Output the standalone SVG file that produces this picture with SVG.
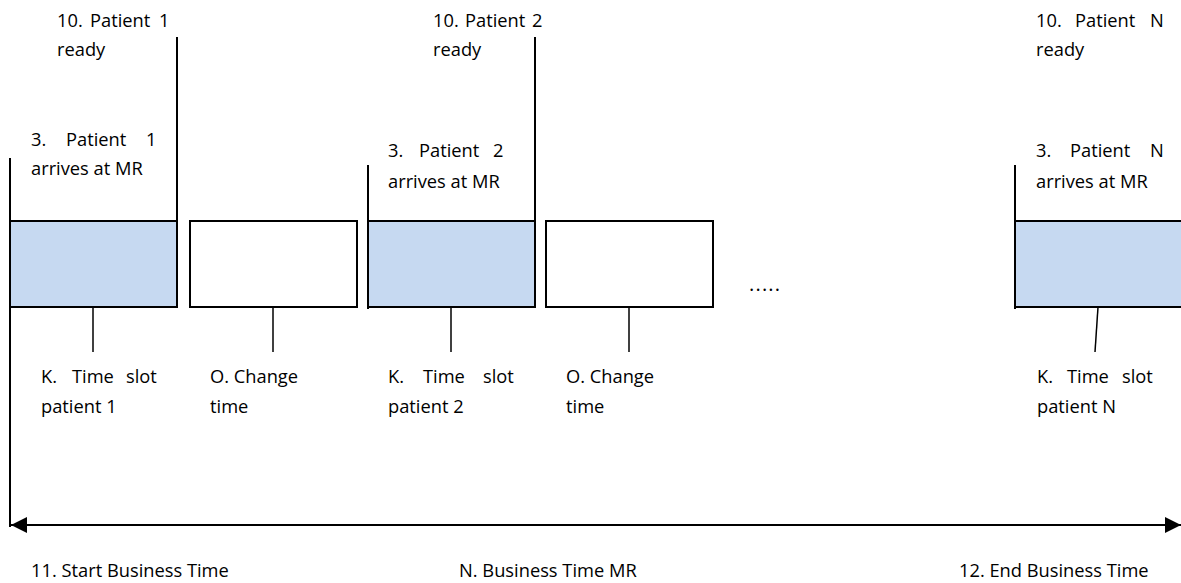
<svg xmlns="http://www.w3.org/2000/svg" width="1181" height="583" viewBox="0 0 1181 583">
  <style>
    text { font-family: "Open Sans", "Noto Sans", sans-serif; font-size: 18.3px; fill: #000; }
    .slot { fill: #C6D9F1; stroke: #000; stroke-width: 2; }
    .change { fill: #fff; stroke: #000; stroke-width: 2; }
    .ln { stroke: #000; stroke-width: 2; fill: none; }
    .tick { stroke: #000; stroke-width: 1.5; fill: none; }
  </style>
  <defs>
    <marker id="arr" viewBox="0 0 10 10" refX="10" refY="5" markerWidth="16" markerHeight="16" markerUnits="userSpaceOnUse" orient="auto-start-reverse">
      <path d="M0,0 L10,5 L0,10 Z" fill="#000"/>
    </marker>
  </defs>
  <rect width="1181" height="583" fill="#fff"/>

  <g id="slot1">
    <rect class="slot" x="10" y="221" width="167" height="86"/>
    <text><tspan x="57" y="27">10.</tspan><tspan x="90" y="27">Patient</tspan><tspan x="159" y="27">1</tspan><tspan x="57" y="56">ready</tspan></text>
    <text><tspan x="31" y="146">3.</tspan><tspan x="66" y="146">Patient</tspan><tspan x="146" y="146">1</tspan><tspan x="31" y="175">arrives at MR</tspan></text>
    <text><tspan x="41" y="383">K.</tspan><tspan x="72" y="383">Time</tspan><tspan x="126" y="383">slot</tspan><tspan x="41" y="413">patient 1</tspan></text>
  </g>
  <g id="change1">
    <rect class="change" x="190" y="221" width="167" height="86"/>
    <text><tspan x="210" y="383">O. Change</tspan><tspan x="210" y="413">time</tspan></text>
  </g>
  <g id="slot2">
    <rect class="slot" x="368" y="221" width="167" height="86"/>
    <text><tspan x="433" y="27">10.</tspan><tspan x="465" y="27">Patient</tspan><tspan x="532" y="27">2</tspan><tspan x="433" y="56">ready</tspan></text>
    <text><tspan x="388" y="157">3.</tspan><tspan x="419" y="157">Patient</tspan><tspan x="493" y="157">2</tspan><tspan x="388" y="188">arrives at MR</tspan></text>
    <text><tspan x="388" y="383">K.</tspan><tspan x="423" y="383">Time</tspan><tspan x="483" y="383">slot</tspan><tspan x="388" y="413">patient 2</tspan></text>
  </g>
  <g id="change2">
    <rect class="change" x="546" y="221" width="167" height="86"/>
    <text><tspan x="566" y="383">O. Change</tspan><tspan x="566" y="413">time</tspan></text>
  </g>
  <g id="ellipsis">
    <text x="749" y="291" style="font-size:20px" letter-spacing="1.2">.....</text>
  </g>
  <g id="slotN">
    <rect class="slot" x="1015" y="221" width="180" height="86"/>
    <text><tspan x="1036" y="27">10.</tspan><tspan x="1075" y="27">Patient</tspan><tspan x="1150" y="27">N</tspan><tspan x="1036" y="56">ready</tspan></text>
    <text><tspan x="1036" y="157">3.</tspan><tspan x="1070" y="157">Patient</tspan><tspan x="1150" y="157">N</tspan><tspan x="1036" y="188">arrives at MR</tspan></text>
    <text><tspan x="1037" y="383">K.</tspan><tspan x="1067" y="383">Time</tspan><tspan x="1122" y="383">slot</tspan><tspan x="1037" y="413">patient N</tspan></text>
  </g>
  <g id="timeline-labels">
    <text x="31" y="577">11. Start Business Time</text>
    <text x="459" y="577">N. Business Time MR</text>
    <text x="959" y="577">12. End Business Time</text>
  </g>

  <g id="connectors">
    <line class="ln" x1="10" y1="158" x2="10" y2="527"/>
    <line class="ln" x1="177" y1="37" x2="177" y2="263"/>
    <line class="ln" x1="368" y1="165" x2="368" y2="309"/>
    <line class="ln" x1="535" y1="37" x2="535" y2="221"/>
    <line class="ln" x1="1015" y1="165" x2="1015" y2="309"/>
    <line class="tick" x1="93" y1="307" x2="93" y2="352"/>
    <line class="tick" x1="273" y1="307" x2="273" y2="352"/>
    <line class="tick" x1="451" y1="307" x2="451" y2="352"/>
    <line class="tick" x1="629" y1="307" x2="629" y2="352"/>
    <line class="tick" x1="1098" y1="307" x2="1095" y2="352"/>
    <line class="ln" x1="11" y1="525" x2="1181" y2="525" marker-start="url(#arr)" marker-end="url(#arr)"/>
  </g>
</svg>
